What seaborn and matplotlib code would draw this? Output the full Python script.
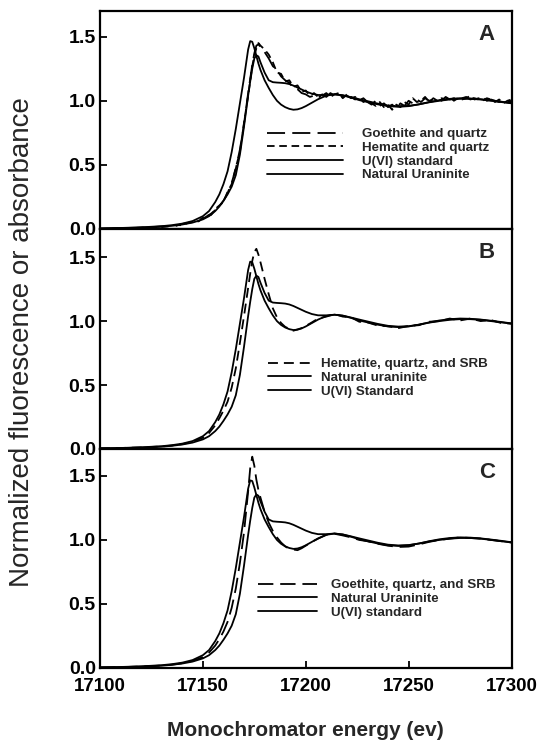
import matplotlib
matplotlib.use("Agg")
import matplotlib.pyplot as plt
import seaborn as sns

sns.set_theme(style="white")
plt.rcParams['font.family'] = ['Liberation Sans', 'DejaVu Sans']

# ---------------- data ----------------
energy = [17100, 17110, 17120, 17130, 17135, 17140, 17145, 17150, 17153, 17156,
          17158, 17160, 17162, 17164, 17166, 17168, 17170, 17172, 17173, 17174,
          17175, 17176, 17177, 17178, 17180, 17182, 17184, 17186, 17188, 17190,
          17192, 17194, 17196, 17198, 17200, 17203, 17206, 17210, 17214, 17218,
          17222, 17226, 17230, 17235, 17240, 17245, 17250, 17255, 17260, 17265,
          17270, 17275, 17280, 17285, 17290, 17295, 17300]

uraninite = [0.005, 0.008, 0.013, 0.022, 0.03, 0.042, 0.062, 0.10, 0.14, 0.21,
             0.27, 0.35, 0.45, 0.60, 0.78, 0.98, 1.18, 1.40, 1.465, 1.46,
             1.41, 1.35, 1.29, 1.24, 1.16, 1.10, 1.045, 1.0, 0.97, 0.95,
             0.937, 0.93, 0.933, 0.943, 0.958, 0.985, 1.012, 1.04, 1.05, 1.042,
             1.025, 1.005, 0.99, 0.972, 0.958, 0.953, 0.958, 0.972, 0.99, 1.005,
             1.015, 1.02, 1.018, 1.012, 1.003, 0.993, 0.982]

u6_standard = [0.004, 0.007, 0.011, 0.018, 0.025, 0.035, 0.05, 0.075, 0.10, 0.14,
               0.175, 0.22, 0.27, 0.33, 0.42, 0.58, 0.80, 1.04, 1.15, 1.25,
               1.33, 1.355, 1.345, 1.30, 1.22, 1.16, 1.145, 1.142, 1.14, 1.137,
               1.13, 1.118, 1.103, 1.088, 1.073, 1.055, 1.045, 1.045, 1.05, 1.043,
               1.028, 1.012, 0.997, 0.978, 0.963, 0.957, 0.96, 0.972, 0.988, 1.0,
               1.01, 1.015, 1.015, 1.01, 1.0, 0.99, 0.98]

hematite_srb = [0.005, 0.008, 0.012, 0.02, 0.027, 0.038, 0.056, 0.088, 0.125, 0.185,
                0.24, 0.30, 0.37, 0.48, 0.63, 0.83, 1.04, 1.26, 1.37, 1.47,
                1.54, 1.565, 1.52, 1.46, 1.33, 1.21, 1.10, 1.03, 0.985, 0.955,
                0.94, 0.925, 0.935, 0.945, 0.962, 0.99, 1.02, 1.035, 1.055, 1.035,
                1.03, 0.995, 0.99, 0.965, 0.96, 0.945, 0.962, 0.968, 0.995, 1.0,
                1.02, 1.005, 1.02, 1.0, 1.008, 0.985, 0.98]

goethite_srb = [0.004, 0.007, 0.011, 0.019, 0.026, 0.037, 0.055, 0.085, 0.12, 0.175,
                0.225, 0.285, 0.36, 0.47, 0.62, 0.82, 1.06, 1.38, 1.56, 1.65,
                1.58, 1.47, 1.39, 1.33, 1.22, 1.135, 1.07, 1.02, 0.98, 0.95,
                0.93, 0.925, 0.92, 0.935, 0.955, 0.985, 1.01, 1.04, 1.048, 1.035,
                1.02, 1.0, 0.99, 0.97, 0.955, 0.945, 0.948, 0.965, 0.985, 1.0,
                1.01, 1.02, 1.015, 1.01, 1.0, 0.99, 0.98]

energy_a = [17100, 17110, 17120, 17130, 17136, 17140, 17144, 17148, 17151, 17154,
            17157, 17160, 17162, 17164, 17166, 17168, 17170, 17172, 17174, 17175,
            17176, 17177,
            17178, 17180, 17182, 17184, 17186, 17188, 17190, 17192, 17194, 17196,
            17198, 17200, 17202, 17204, 17206, 17208, 17210, 17212, 17214, 17216,
            17218, 17220, 17222, 17224, 17226, 17228, 17230, 17232, 17234, 17236,
            17238, 17240, 17242, 17244, 17246, 17248, 17250, 17252, 17254, 17256,
            17258, 17260, 17262, 17264, 17266, 17268, 17270, 17272, 17274, 17276,
            17278, 17280, 17282, 17284, 17286, 17288, 17290, 17292, 17294, 17296,
            17298, 17300]

goethite_quartz = [0.0, 0.005, 0.01, 0.02, 0.02, 0.04, 0.05, 0.07, 0.09, 0.12,
                   0.16, 0.22, 0.28, 0.36, 0.47, 0.62, 0.82, 1.06, 1.28, 1.37,
                   1.43, 1.44,
                   1.42, 1.38, 1.33, 1.27, 1.24, 1.19, 1.16, 1.14, 1.10, 1.09,
                   1.06, 1.05, 1.03, 1.04, 1.02, 1.05, 1.03, 1.06, 1.04, 1.05,
                   1.03, 1.04, 1.02, 1.03, 1.0, 1.02, 0.99, 0.97, 1.0, 0.96,
                   0.98, 0.95, 0.97, 0.94, 0.98, 0.96, 1.0, 0.98, 1.01, 0.99,
                   1.02, 1.0, 1.01, 1.02, 1.0, 1.03, 1.01, 1.02, 1.01, 1.02,
                   1.03, 1.01, 1.02, 1.01, 1.03, 1.0, 1.01, 1.0, 0.99, 1.0,
                   0.99, 1.0]

hematite_quartz = [0.0, 0.005, 0.01, 0.015, 0.03, 0.03, 0.055, 0.06, 0.10, 0.11,
                   0.17, 0.21, 0.29, 0.35, 0.48, 0.60, 0.83, 1.04, 1.27, 1.35,
                   1.41, 1.45,
                   1.43, 1.40, 1.36, 1.30, 1.22, 1.21, 1.15, 1.16, 1.11, 1.12,
                   1.07, 1.08, 1.04, 1.06, 1.03, 1.04, 1.06, 1.03, 1.05, 1.06,
                   1.02, 1.05, 1.03, 1.01, 1.03, 0.99, 1.01, 0.98, 0.96, 0.99,
                   0.95, 0.97, 0.93, 0.97, 0.95, 0.99, 0.97, 1.02, 0.99, 1.0,
                   1.03, 0.99, 1.02, 1.0, 1.02, 1.01, 1.03, 1.0, 1.02, 1.01,
                   1.02, 1.04, 1.01, 1.02, 1.0, 1.02, 1.01, 0.99, 1.01, 0.98,
                   1.0, 1.01]

x_ticks = [17100, 17150, 17200, 17250, 17300]
x_tick_labels = ['17100', '17150', '17200', '17250', '17300']
y_ticks = [0.0, 0.5, 1.0, 1.5]
y_tick_labels = ['0.0', '0.5', '1.0', '1.5']

legend_a = ['Goethite and quartz', 'Hematite and quartz', 'U(VI) standard', 'Natural Uraninite']
legend_b = ['Hematite, quartz, and SRB', 'Natural uraninite', 'U(VI) Standard']
legend_c = ['Goethite, quartz, and SRB', 'Natural Uraninite', 'U(VI) standard']

# ---------------- figure ----------------
W, H = 537, 741
fig = plt.figure(figsize=(W / 100, H / 100), dpi=100)
fig.patch.set_facecolor('white')


def add_ax(top, bottom):
    return fig.add_axes([100 / W, 1 - bottom / H, 411.5 / W, (bottom - top) / H])


axA = add_ax(11, 229)
axB = add_ax(229, 449)
axC = add_ax(449, 668)

LW = 1.3


def draw(ax, x, y, dashes=None, lw=LW):
    sns.lineplot(x=x, y=y, ax=ax, color='black', linewidth=lw,
                 sort=False, estimator=None, legend=False)
    line = ax.lines[-1]
    if dashes is not None:
        line.set_dashes(dashes)
    return line


# Panel A
hA = [draw(axA, energy_a, goethite_quartz, dashes=(10, 4)),
      draw(axA, energy_a, hematite_quartz, dashes=(4.2, 2.6)),
      draw(axA, energy, u6_standard),
      draw(axA, energy, uraninite)]
# Panel B
hB = [draw(axB, energy, hematite_srb, dashes=(5.5, 3.3)),
      draw(axB, energy, uraninite),
      draw(axB, energy, u6_standard)]
# Panel C
hC = [draw(axC, energy, goethite_srb, dashes=(8.5, 3.8)),
      draw(axC, energy, uraninite),
      draw(axC, energy, u6_standard)]

for ax, ymax in [(axA, 1.70), (axB, 1.72), (axC, 1.71)]:
    ax.set_facecolor('white')
    ax.set_xlim(17100, 17300)
    ax.set_ylim(0, ymax)
    ax.set_yticks(y_ticks)
    ax.set_yticklabels(y_tick_labels, fontweight='bold', fontsize=14)
    ax.tick_params(axis='both', direction='in', length=5, width=1.3,
                   color='black', labelcolor='black', pad=3,
                   left=True, bottom=True)
    for sp in ax.spines.values():
        sp.set_visible(True)
        sp.set_linewidth(1.6)
        sp.set_color('black')
    ax.set_xlabel('')
    ax.set_ylabel('')
    ax.grid(False)

for ax in (axA, axB):
    ax.set_xticks([])
axC.set_xticks(x_ticks)
axC.set_xticklabels(x_tick_labels, fontweight='bold', fontsize=13.5)
axC.tick_params(axis='x', pad=7)

legend_kw = dict(loc='upper left', frameon=False, borderpad=0, borderaxespad=0,
                 labelspacing=0.1, prop={'weight': 'bold', 'size': 9.6})
axA.legend(hA, legend_a, bbox_to_anchor=(0.406, 0.463), handlelength=5.7,
           handletextpad=1.4, **legend_kw)
axB.legend(hB, legend_b, bbox_to_anchor=(0.408, 0.414), handlelength=3.2,
           handletextpad=0.75, **legend_kw)
axC.legend(hC, legend_c, bbox_to_anchor=(0.384, 0.406), handlelength=4.4,
           handletextpad=1.1, **legend_kw)

for ax, letter in [(axA, 'A'), (axB, 'B'), (axC, 'C')]:
    ax.text(0.94, 0.894, letter, transform=ax.transAxes, fontsize=16,
            fontweight='bold', ha='center', va='center')

fig.text(22 / W, 1 - 342 / H, 'Normalized fluorescence or absorbance',
         rotation=90, fontsize=20, ha='center', va='center')
fig.text(305 / W, 1 - 731 / H, 'Monochromator energy (ev)',
         fontsize=15, fontweight='bold', ha='center', va='center')

fig.savefig('out.png', dpi=100, facecolor='white')
